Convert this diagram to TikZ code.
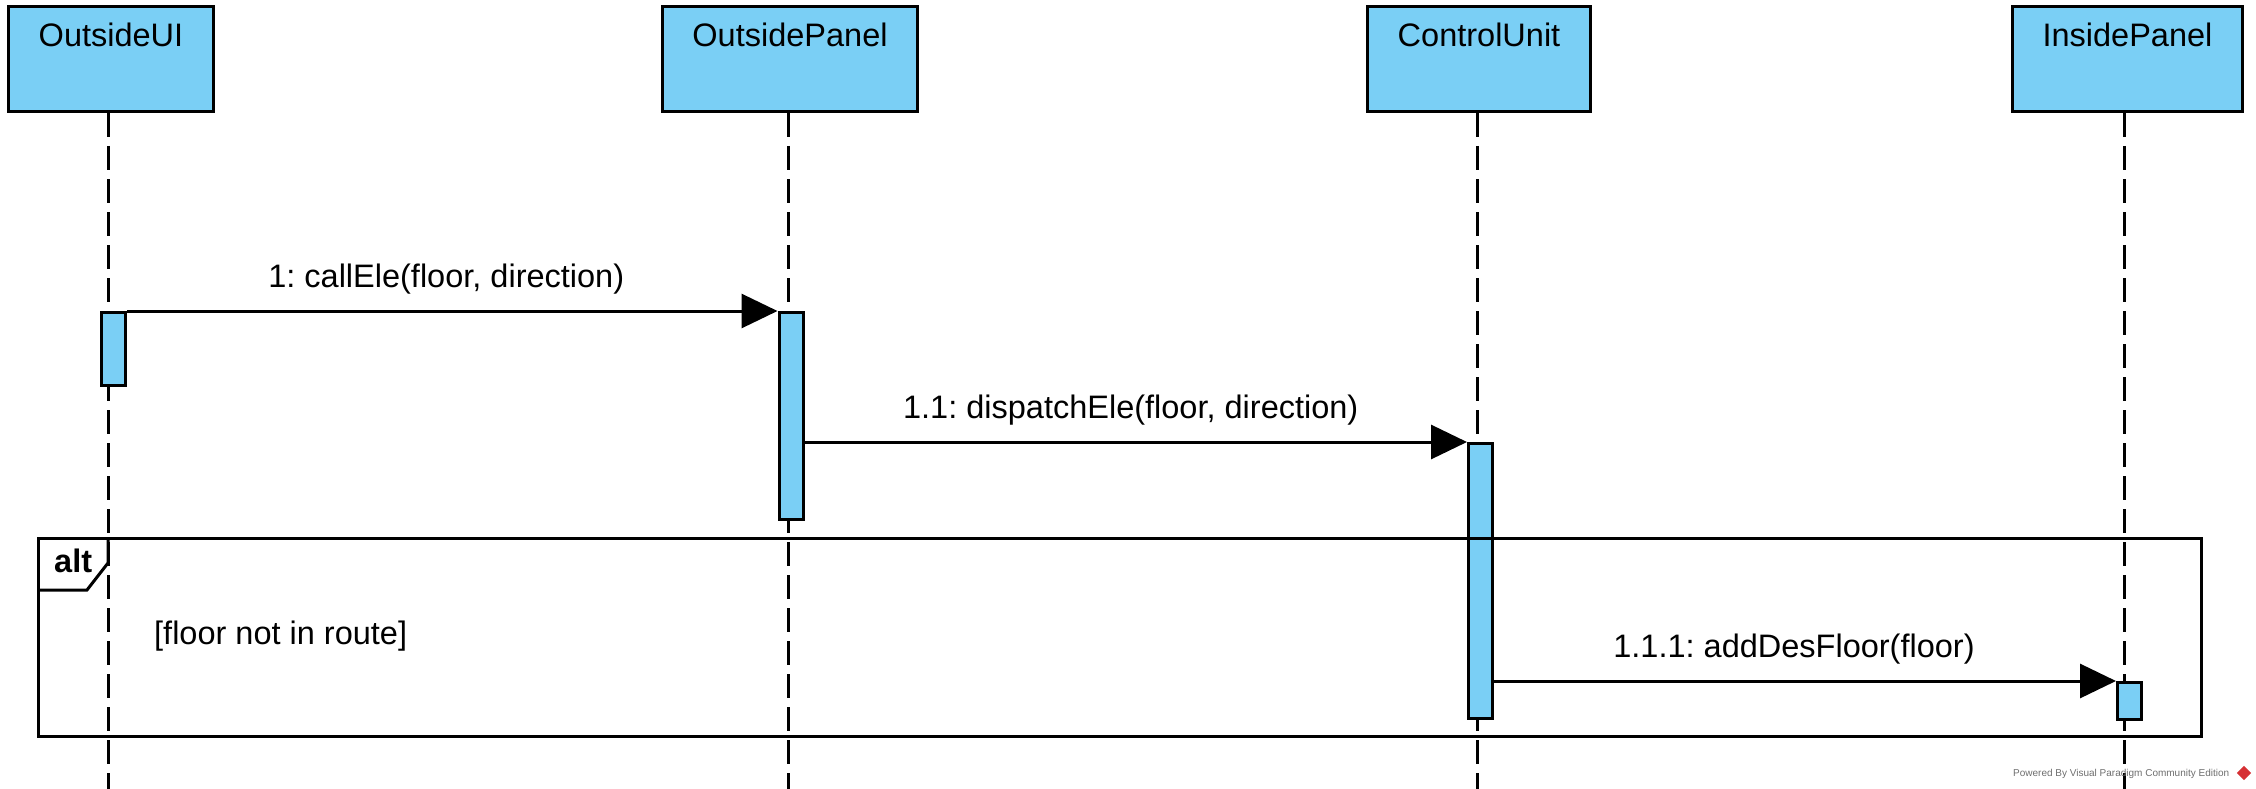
\documentclass[tikz,border=0pt]{standalone}
\usepackage{fontspec}
\setmainfont{Liberation Sans}
\usetikzlibrary{arrows.meta}
\definecolor{vpblue}{RGB}{122,207,245}
\definecolor{wmgray}{RGB}{110,110,110}
\definecolor{vpred}{RGB}{214,48,52}
\frenchspacing
\begin{document}
\begin{tikzpicture}[x=1pt,y=-1pt,
  head/.style={draw=black, line width=3pt, fill=vpblue, anchor=north west, inner sep=0pt, minimum height=105pt},
  headname/.style={anchor=base, font=\fontsize{32.5}{38}\selectfont, inner sep=0pt},
  life/.style={draw=black, line width=3pt, dash pattern=on 24pt off 9pt},
  act/.style={draw=black, line width=3pt, fill=vpblue, anchor=north west, inner sep=0pt, minimum width=24pt},
  msg/.style={draw=black, line width=3pt, -{Triangle[length=36pt,width=34pt]}},
  msglabel/.style={anchor=base, font=\fontsize{32.5}{38}\selectfont, inner sep=0pt, yshift=24pt},
  framebox/.style={draw=black, line width=3pt, anchor=north west, inner sep=0pt},
  plainlabel/.style={anchor=base west, font=\fontsize{32.5}{38}\selectfont, inner sep=0pt},
]
\useasboundingbox (0,0) rectangle (2256,789);

% heads
\node[head, minimum width=205pt] (ui) at (7,5) {};
\node[head, minimum width=255pt] (op) at (661,5) {};
\node[head, minimum width=223pt] (cu) at (1366,5) {};
\node[head, minimum width=230pt] (ip) at (2011,5) {};
\node[headname] (uiname) at (ui.north |- 0,46.5) {OutsideUI};
\node[headname] (opname) at (op.north |- 0,46.5) {OutsidePanel};
\node[headname] (cuname) at (cu.north |- 0,46.5) {ControlUnit};
\node[headname] (ipname) at (ip.north |- 0,46.5) {InsidePanel};

% lifelines
\coordinate (uiend) at (108,789);
\coordinate (opend) at (788.5,789);
\coordinate (cuend) at (1477,789);
\coordinate (ipend) at (2124,789);
\draw[life] (uiend |- ui.south) -- (uiend);
\draw[life] (opend |- op.south) -- (opend);
\draw[life] (cuend |- cu.south) -- (cuend);
\draw[life] (ipend |- ip.south) -- (ipend);

% activations
\node[act, minimum height=73pt] (a1) at (100,311) {};
\node[act, minimum height=207pt] (a2) at (777.5,311) {};
\node[act, minimum height=275pt] (a3) at (1467,442) {};
\node[act, minimum height=37pt] (a4) at (2116,681) {};

% alt frame
\node[framebox, minimum width=2163pt, minimum height=198pt] (alt) at (37,537) {};
\coordinate (tabtop) at (108,537);
\coordinate (tabmid) at (108,563);
\coordinate (tabcut) at (87,590);
\coordinate (tableft) at (37,590);
\draw[line width=3pt, line join=miter] (tableft) -- (tabcut) -- (tabmid) -- (tabtop);
\node[plainlabel, font=\fontsize{32.5}{38}\selectfont\bfseries] (altlabel) at (54,572) {alt};
\node[plainlabel] (guard) at (154,644) {[floor not in route]};

% messages
\draw[msg] (a1.north east) -- node[msglabel, xshift=-6pt] (m1) {1: callEle(floor, direction)} (a2.north west);
\draw[msg] (a2.east |- a3.north) -- node[msglabel, xshift=-5pt] (m2) {1.1: dispatchEle(floor, direction)} (a3.north west);
\draw[msg] (a3.east |- a4.north) -- node[msglabel, xshift=-11pt] (m3) {1.1.1: addDesFloor(floor)} (a4.north west);

% watermark
\node[anchor=base west, font=\fontsize{10}{12}\selectfont, text=wmgray, inner sep=0pt] (wm) at (2013,776) {Powered By Visual Paradigm Community Edition};
\node[fill=vpred, rotate=45, minimum size=10pt, inner sep=0pt] (logo) at (2244,773) {};
\end{tikzpicture}
\end{document}
